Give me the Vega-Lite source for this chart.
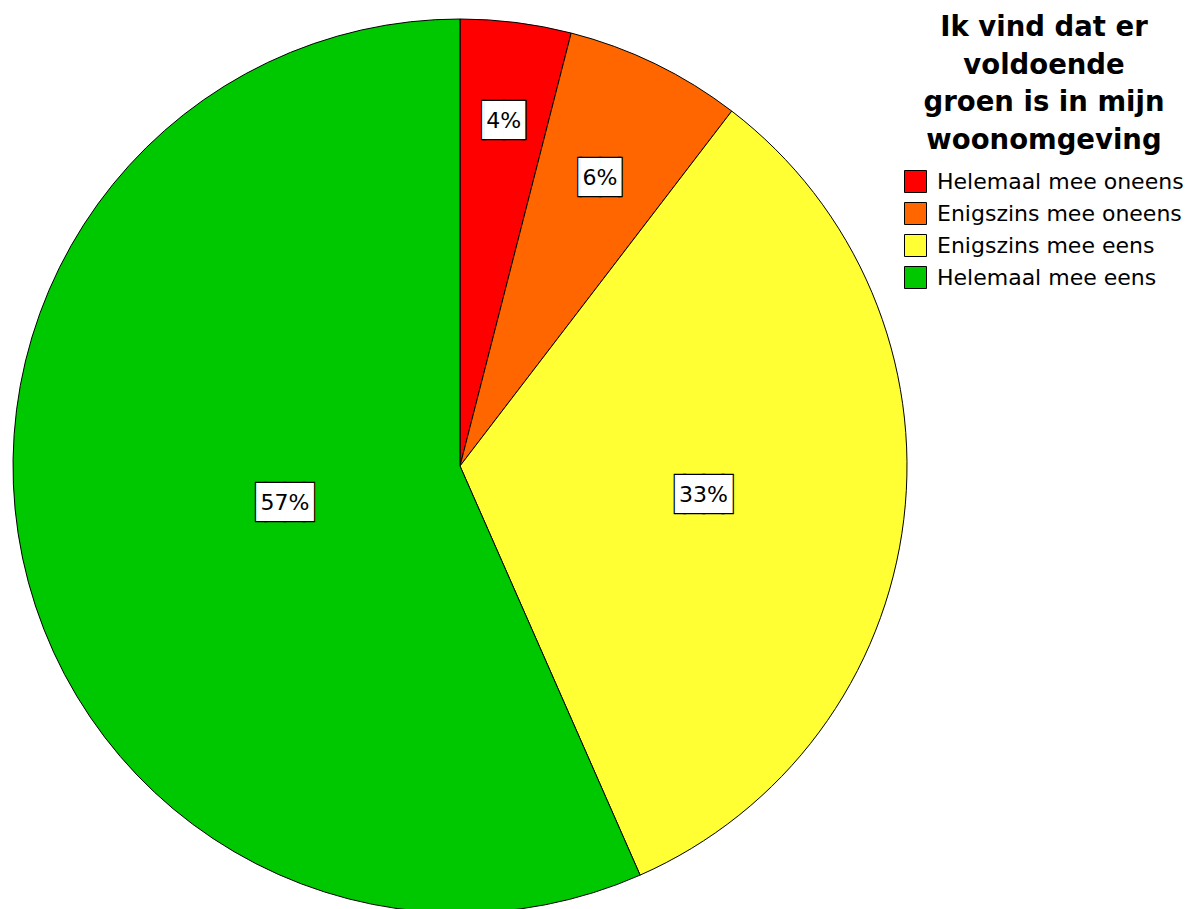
{
  "$schema": "https://vega.github.io/schema/vega-lite/v6.json",
  "width": 894,
  "height": 894,
  "padding": {"left": 11, "top": 14, "right": 0, "bottom": 0},
  "autosize": {"type": "pad"},
  "background": "white",
  "config": {"view": {"stroke": null}},
  "data": {
    "values": [
      {"cat": "Helemaal mee oneens", "value": 4.0, "label": "4%", "idx": 1},
      {"cat": "Enigszins mee oneens", "value": 6.4, "label": "6%", "idx": 2},
      {"cat": "Enigszins mee eens", "value": 33.0, "label": "33%", "idx": 3},
      {"cat": "Helemaal mee eens", "value": 56.6, "label": "57%", "idx": 4}
    ]
  },
  "encoding": {
    "theta": {"field": "value", "type": "quantitative", "stack": true},
    "order": {"field": "idx", "type": "quantitative"}
  },
  "layer": [
    {
      "mark": {"type": "arc", "stroke": "black", "strokeWidth": 1},
      "encoding": {
        "color": {
          "field": "cat",
          "type": "nominal",
          "sort": null,
          "scale": {
            "domain": ["Helemaal mee oneens", "Enigszins mee oneens", "Enigszins mee eens", "Helemaal mee eens"],
            "range": ["#FF0000", "#FF6600", "#FFFF33", "#00C800"]
          },
          "legend": {
            "title": ["Ik vind dat er", "voldoende", "groen is in mijn", "woonomgeving"],
            "orient": "none",
            "legendX": 891,
            "legendY": -5,
            "padding": 0,
            "titleFont": "DejaVu Sans",
            "titleFontSize": 27.5,
            "titleFontWeight": "bold",
            "titleColor": "black",
            "titleAnchor": "middle",
            "titleAlign": "center",
            "titleLineHeight": 37.5,
            "titlePadding": 16,
            "titleLimit": 400,
            "labelFont": "DejaVu Sans",
            "labelFontSize": 22,
            "labelColor": "black",
            "labelOffset": 10,
            "labelLimit": 400,
            "symbolType": "square",
            "symbolSize": 484,
            "symbolStrokeColor": "black",
            "symbolStrokeWidth": 1,
            "rowPadding": 5
          }
        }
      }
    },
    {
      "mark": {"type": "text", "font": "DejaVu Sans Mono", "fontSize": 32, "fill": "white", "stroke": "black", "strokeWidth": 2.5, "align": "center", "baseline": "middle"},
      "encoding": {
        "radius": {"field": "value", "type": "quantitative", "scale": {"type": "linear", "domain": [4, 6.4, 56.6], "range": [348, 320, 179], "zero": false}},
        "text": {"condition": {"test": "datum.value > 10", "value": "▐██▌"}, "value": "▕██▏"}
      }
    },
    {
      "mark": {"type": "text", "font": "DejaVu Sans Mono", "fontSize": 32, "fill": "white", "align": "center", "baseline": "middle"},
      "encoding": {
        "radius": {"field": "value", "type": "quantitative"},
        "text": {"condition": {"test": "datum.value > 10", "value": "▐██▌"}, "value": "▕██▏"}
      }
    },
    {
      "mark": {"type": "text", "font": "DejaVu Sans", "fontSize": 22, "fill": "black", "align": "center", "baseline": "middle"},
      "encoding": {
        "radius": {"field": "value", "type": "quantitative"},
        "text": {"field": "label", "type": "nominal"}
      }
    }
  ]
}
